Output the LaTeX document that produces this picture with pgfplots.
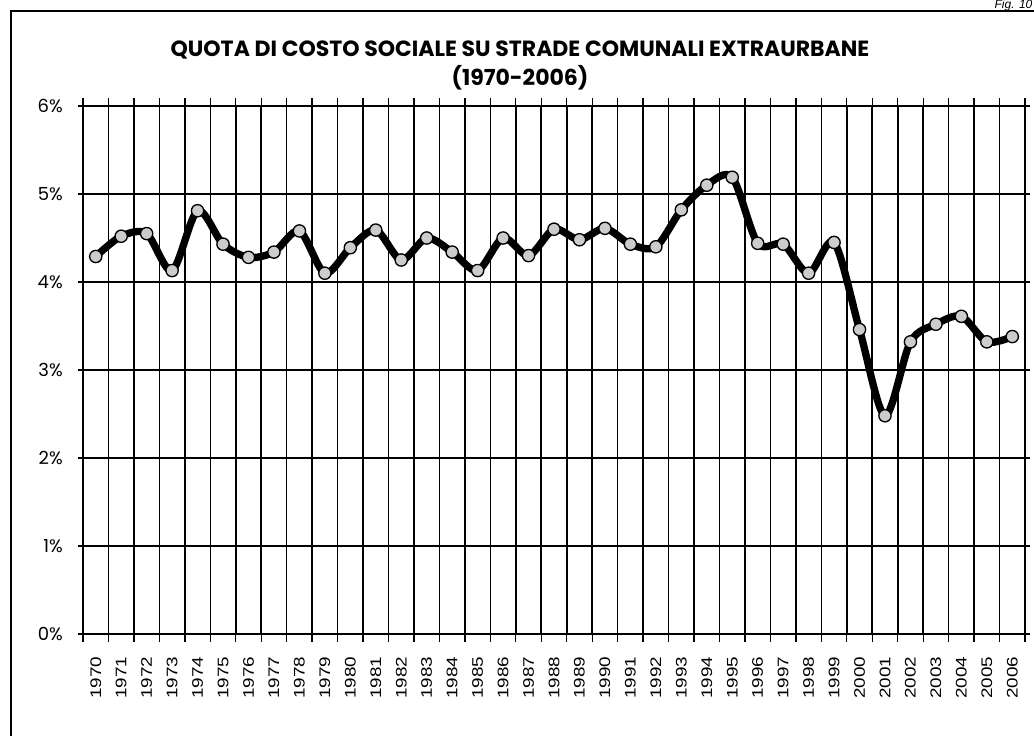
\documentclass[border=0pt]{standalone}
\usepackage{graphicx}
\usepackage{pgfplots}
\pgfplotsset{compat=1.18}
\usepackage{fontspec}
\setmainfont{Liberation Sans}
\newfontfamily\popp{Poppins}
\newcommand\yr[1]{\scalebox{1.23}[1]{#1}}
\pgfplotstableread{
x y
0 4.29
1 4.52
2 4.55
3 4.13
4 4.81
5 4.43
6 4.28
7 4.34
8 4.58
9 4.10
10 4.39
11 4.59
12 4.25
13 4.50
14 4.34
15 4.13
16 4.50
17 4.30
18 4.60
19 4.48
20 4.61
21 4.43
22 4.40
23 4.82
24 5.10
25 5.19
26 4.44
27 4.43
28 4.10
29 4.45
30 3.46
31 2.48
32 3.32
33 3.52
34 3.61
35 3.32
36 3.38
}\datatable
\begin{document}
\begin{tikzpicture}
\useasboundingbox (0,0) rectangle (775.5pt,552pt);
\draw[line width=1.2pt] (8.25pt,0) -- (8.25pt,543.75pt) -- (775.5pt,543.75pt);
\node[anchor=base east, inner sep=0pt, font=\itshape\fontsize{9}{10}\selectfont] at (774.5pt,545.6pt) {Fig. 10};
\node[anchor=base, inner sep=0pt, font=\popp\bfseries\fontsize{16.5}{18}\selectfont] at (390pt,509.25pt) {QUOTA DI COSTO SOCIALE SU STRADE COMUNALI EXTRAURBANE};
\node[anchor=base, inner sep=0pt, font=\popp\bfseries\fontsize{16.5}{18}\selectfont] at (390pt,487.5pt) {(1970-2006)};
\begin{axis}[
  at={(62.25pt,76.5pt)}, anchor=south west,
  scale only axis, width=706.5pt, height=396pt,
  xmin=-0.5, xmax=36.5, ymin=0, ymax=6,
  clip=false,
  xtick={0,...,36},
  xticklabels={\yr{1970},\yr{1971},\yr{1972},\yr{1973},\yr{1974},\yr{1975},\yr{1976},\yr{1977},\yr{1978},\yr{1979},\yr{1980},\yr{1981},\yr{1982},\yr{1983},\yr{1984},\yr{1985},\yr{1986},\yr{1987},\yr{1988},\yr{1989},\yr{1990},\yr{1991},\yr{1992},\yr{1993},\yr{1994},\yr{1995},\yr{1996},\yr{1997},\yr{1998},\yr{1999},\yr{2000},\yr{2001},\yr{2002},\yr{2003},\yr{2004},\yr{2005},\yr{2006}},
  minor xtick={-0.5,0.5,...,36.5},
  ytick={0,1,2,3,4,5,6},
  yticklabels={0\%,1\%,2\%,3\%,4\%,5\%,6\%},
  xminorgrids, ymajorgrids,
  tick align=outside,
  major x tick style={draw=none},
  minor tick length=6pt, major tick length=4pt,
  every tick/.style={black, line width=1pt},
  grid style={black, line width=1.2pt},
  minor grid style={black, line width=1.2pt},
  axis line style={line width=1.3pt},
  xticklabel shift=13pt,
  xticklabel style={rotate=90, anchor=east, inner sep=0pt, font=\fontsize{11.5}{12}\selectfont},
  yticklabel style={anchor=east, inner sep=0pt, xshift=-11pt, font=\popp\fontsize{13.5}{15}\selectfont},
]
\addplot[black, line width=5.5pt, smooth, tension=0.5, mark=*, mark size=4.6pt,
  mark options={fill=gray!40, draw=black, line width=1pt}] table[x=x,y=y] {\datatable};
\end{axis}
\end{tikzpicture}
\end{document}
